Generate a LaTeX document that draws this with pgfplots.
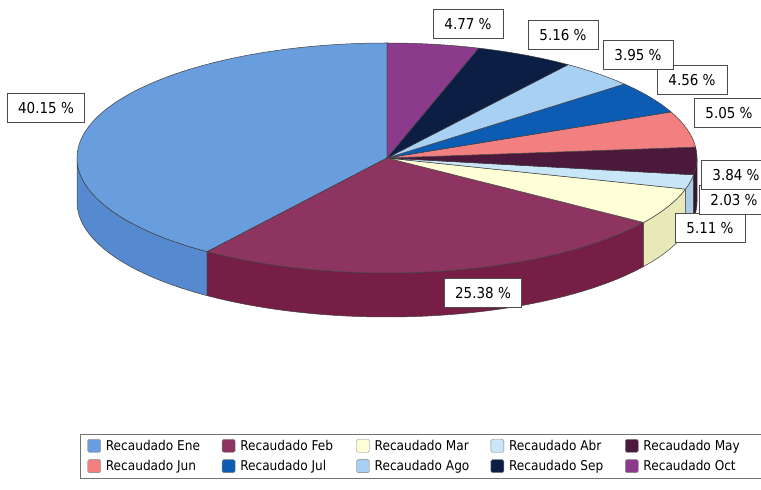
\documentclass[border=0pt]{standalone}
\usepackage{pgfplots}
\usepackage{pgfplotstable}
\pgfplotsset{compat=1.18}
\usepackage{fontspec}
\setmainfont{DejaVu Sans Condensed}

\definecolor{c0}{RGB}{105,158,222}
\definecolor{c1}{RGB}{142,52,96}
\definecolor{c2}{RGB}{255,255,215}
\definecolor{c3}{RGB}{200,230,248}
\definecolor{c4}{RGB}{75,25,60}
\definecolor{c5}{RGB}{242,128,128}
\definecolor{c6}{RGB}{12,92,180}
\definecolor{c7}{RGB}{168,208,242}
\definecolor{c8}{RGB}{12,30,68}
\definecolor{c9}{RGB}{140,58,140}
\definecolor{s0}{RGB}{85,138,208}
\definecolor{s1}{RGB}{118,30,70}
\definecolor{s2}{RGB}{232,232,185}
\definecolor{s3}{RGB}{170,205,228}
\definecolor{s4}{RGB}{60,18,48}
\definecolor{s5}{RGB}{200,100,100}
\definecolor{s6}{RGB}{10,70,150}
\definecolor{s7}{RGB}{140,180,215}
\definecolor{s8}{RGB}{8,20,50}
\definecolor{s9}{RGB}{110,40,110}

\pgfplotstableread{
month value
Ene 40.15
Feb 25.38
Mar 5.11
Abr 2.03
May 3.84
Jun 5.05
Jul 4.56
Ago 3.95
Sep 5.16
Oct 4.77
}\piedata

\begin{document}
\gdef\cum{90}%
\foreach \i in {0,...,9}{%
  \pgfplotstablegetelem{\i}{value}\of\piedata
  \pgfmathsetmacro\sa{\cum}%
  \pgfmathsetmacro\ea{\cum+3.6*\pgfplotsretval}%
  \pgfmathsetmacro\lo{max(\sa,180)}%
  \pgfmathsetmacro\hi{min(\ea,360)}%
  \pgfmathtruncatemacro\vis{\hi>\lo ? 1 : 0}%
  \expandafter\xdef\csname sa\i\endcsname{\sa}%
  \expandafter\xdef\csname ea\i\endcsname{\ea}%
  \expandafter\xdef\csname lo\i\endcsname{\lo}%
  \expandafter\xdef\csname hi\i\endcsname{\hi}%
  \expandafter\xdef\csname vis\i\endcsname{\vis}%
  \xdef\cum{\ea}%
}%
\begin{tikzpicture}[lbl/.style={draw=black!70, fill=white, line width=0.7pt,
    font=\fontsize{15}{17}\selectfont, minimum height=29pt, minimum width=70pt, inner sep=2pt}]
\begin{axis}[name=ax, width=761pt, height=490pt, scale only axis,
  xmin=0, xmax=761, ymin=0, ymax=490, axis lines=none, clip=false,
  legend columns=5,
  legend cell align=left,
  legend style={at={(axis cs:421,34)}, anchor=center, draw=black!55, fill=white,
    font=\fontsize{13.5}{15}\selectfont, column sep=5pt, row sep=7pt,
    inner xsep=7pt, inner ysep=5pt, nodes={inner sep=0pt}},
]
\coordinate (C) at (axis cs:387,332);
% side walls
\pgfplotsinvokeforeach{0,...,9}{%
  \ifnum\csname vis#1\endcsname=1
  \filldraw[fill=s#1, draw=black!75, line width=0.5pt, line join=round]
    ([shift={(\csname lo#1\endcsname:310pt and 115pt)}]C)
    arc[start angle=\csname lo#1\endcsname, end angle=\csname hi#1\endcsname, x radius=310pt, y radius=115pt]
    -- ++(0pt,-44pt)
    arc[start angle=\csname hi#1\endcsname, end angle=\csname lo#1\endcsname, x radius=310pt, y radius=115pt]
    -- cycle;
  \fi
}
% top faces
\pgfplotsinvokeforeach{0,...,9}{%
  \filldraw[fill=c#1, draw=black!75, line width=0.5pt, line join=round]
    (C) -- ([shift={(\csname sa#1\endcsname:310pt and 115pt)}]C)
    arc[start angle=\csname sa#1\endcsname, end angle=\csname ea#1\endcsname, x radius=310pt, y radius=115pt]
    -- cycle;
}
% labels
\node[lbl, minimum width=77pt] at (axis cs:46,382) {40.15 \%};
\node[lbl, minimum width=77pt] at (axis cs:483,197) {25.38 \%};
\node[lbl] at (axis cs:710,262) {5.11 \%};
\node[lbl] at (axis cs:734,290) {2.03 \%};
\node[lbl] at (axis cs:736,315) {3.84 \%};
\node[lbl] at (axis cs:729,377) {5.05 \%};
\node[lbl] at (axis cs:692,410) {4.56 \%};
\node[lbl] at (axis cs:638,435) {3.95 \%};
\node[lbl] at (axis cs:563,455) {5.16 \%};
\node[lbl] at (axis cs:468,466) {4.77 \%};
% legend
\addlegendimage{legend image code/.code={\filldraw[fill=c0, draw=black!50, rounded corners=1.5pt] (0pt,-6.5pt) rectangle (13pt,6.5pt);}}
\addlegendentry{\makebox[111pt][l]{Recaudado Ene}}
\addlegendimage{legend image code/.code={\filldraw[fill=c1, draw=black!50, rounded corners=1.5pt] (0pt,-6.5pt) rectangle (13pt,6.5pt);}}
\addlegendentry{\makebox[111pt][l]{Recaudado Feb}}
\addlegendimage{legend image code/.code={\filldraw[fill=c2, draw=black!50, rounded corners=1.5pt] (0pt,-6.5pt) rectangle (13pt,6.5pt);}}
\addlegendentry{\makebox[111pt][l]{Recaudado Mar}}
\addlegendimage{legend image code/.code={\filldraw[fill=c3, draw=black!50, rounded corners=1.5pt] (0pt,-6.5pt) rectangle (13pt,6.5pt);}}
\addlegendentry{\makebox[111pt][l]{Recaudado Abr}}
\addlegendimage{legend image code/.code={\filldraw[fill=c4, draw=black!50, rounded corners=1.5pt] (0pt,-6.5pt) rectangle (13pt,6.5pt);}}
\addlegendentry{\makebox[111pt][l]{Recaudado May}}
\addlegendimage{legend image code/.code={\filldraw[fill=c5, draw=black!50, rounded corners=1.5pt] (0pt,-6.5pt) rectangle (13pt,6.5pt);}}
\addlegendentry{\makebox[111pt][l]{Recaudado Jun}}
\addlegendimage{legend image code/.code={\filldraw[fill=c6, draw=black!50, rounded corners=1.5pt] (0pt,-6.5pt) rectangle (13pt,6.5pt);}}
\addlegendentry{\makebox[111pt][l]{Recaudado Jul}}
\addlegendimage{legend image code/.code={\filldraw[fill=c7, draw=black!50, rounded corners=1.5pt] (0pt,-6.5pt) rectangle (13pt,6.5pt);}}
\addlegendentry{\makebox[111pt][l]{Recaudado Ago}}
\addlegendimage{legend image code/.code={\filldraw[fill=c8, draw=black!50, rounded corners=1.5pt] (0pt,-6.5pt) rectangle (13pt,6.5pt);}}
\addlegendentry{\makebox[111pt][l]{Recaudado Sep}}
\addlegendimage{legend image code/.code={\filldraw[fill=c9, draw=black!50, rounded corners=1.5pt] (0pt,-6.5pt) rectangle (13pt,6.5pt);}}
\addlegendentry{\makebox[111pt][l]{Recaudado Oct}}
\end{axis}
\pgfresetboundingbox
\useasboundingbox (ax.south west) rectangle (ax.north east);
\end{tikzpicture}
\end{document}
